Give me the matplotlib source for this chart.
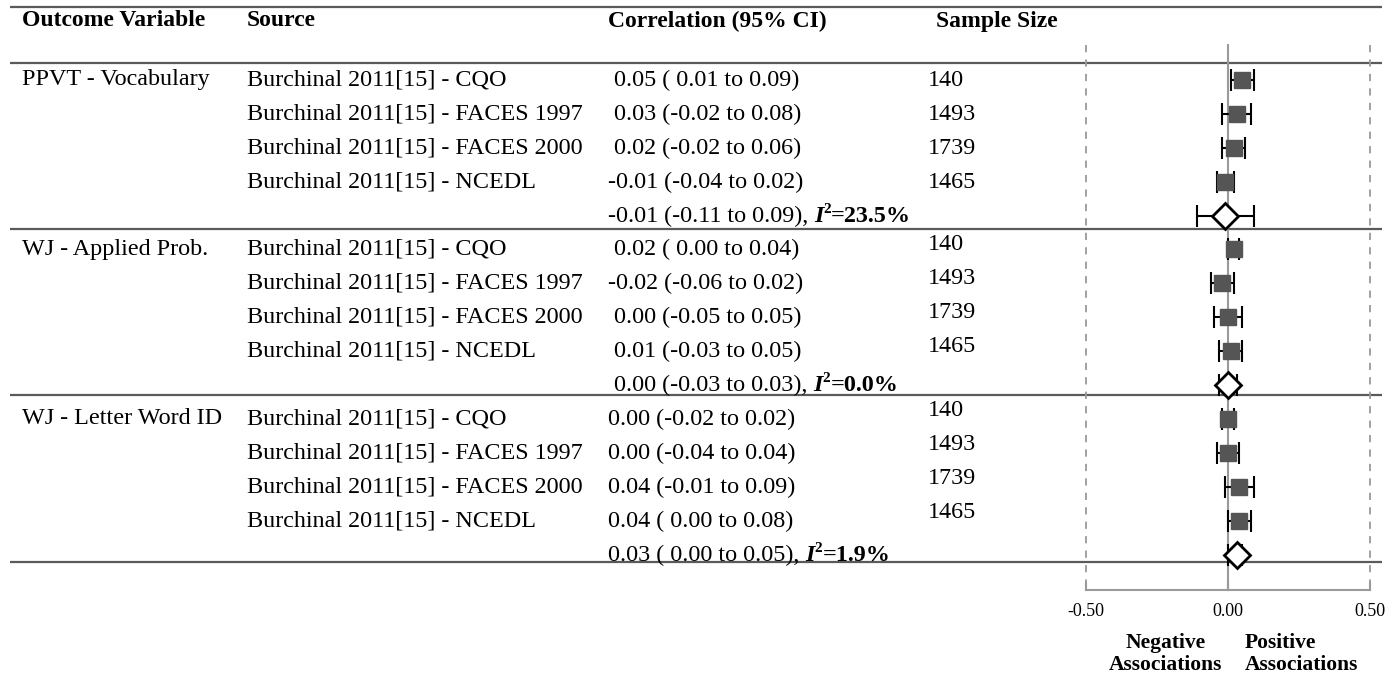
import numpy as np
import matplotlib.pyplot as plt

# Outcome groups, studies and pooled estimates
outcomes = ['PPVT - Vocabulary', 'WJ - Applied Prob.', 'WJ - Letter Word ID']
sources = ['Burchinal 2011[15] - CQO', 'Burchinal 2011[15] - FACES 1997',
           'Burchinal 2011[15] - FACES 2000', 'Burchinal 2011[15] - NCEDL']
sample_sizes = [140, 1493, 1739, 1465]

est = [[0.05, 0.03, 0.02, -0.01],
       [0.02, -0.02, 0.00, 0.01],
       [0.00, 0.00, 0.04, 0.04]]
lo = [[0.01, -0.02, -0.02, -0.04],
      [0.00, -0.06, -0.05, -0.03],
      [-0.02, -0.04, -0.01, 0.00]]
hi = [[0.09, 0.08, 0.06, 0.02],
      [0.04, 0.02, 0.05, 0.05],
      [0.02, 0.04, 0.09, 0.08]]

pooled_est = [-0.01, 0.00, 0.03]
pooled_lo = [-0.11, -0.03, 0.00]
pooled_hi = [0.09, 0.03, 0.05]
i_squared = ['23.5%', '0.0%', '1.9%']

xticks = [-0.5, 0.0, 0.5]
xtick_labels = ['-0.50', '0.00', '0.50']

# layout (pixel rows, top-down)
W, H = 1400, 676
group_top = [80, 249, 419]
row_step = 34
sep_y = [229, 395, 562]
n_offset = [0, -4, -9]
pad_est = [True, True, False]

plt.rcParams['font.family'] = ['Liberation Serif', 'DejaVu Serif']
fs = 17.4
gray_line = '#5a5a5a'
axis_gray = '#9a9a9a'

fig = plt.figure(figsize=(14, 6.76), dpi=100)
tab = fig.add_axes([0, 0, 1, 1])
tab.set_xlim(0, W)
tab.set_ylim(H, 0)
tab.axis('off')

fa = fig.add_axes([1086 / W, 0, 284 / W, 1])
fa.set_xlim(-0.5, 0.5)
fa.set_ylim(H, 0)
fa.axis('off')

# header and rules
for x, s in zip([22, 247, 608, 936],
                ['Outcome Variable', 'Source', 'Correlation (95% CI)', 'Sample Size']):
    tab.text(x, 21, s, fontsize=17, fontweight='bold', va='center')
for y in [7, 63] + sep_y:
    tab.plot([10, 1382], [y, y], color=gray_line, lw=1.6, solid_capstyle='butt')


def fmt(v, pad):
    return f'{v:5.2f}' if pad else f'{v:.2f}'


for g in range(3):
    rows = [group_top[g] + row_step * k for k in range(5)]
    tab.text(22, rows[0], outcomes[g], fontsize=fs, va='center')
    for k in range(4):
        y = rows[k]
        tab.text(247, y, sources[k], fontsize=fs, va='center')
        label = f'{fmt(est[g][k], pad_est[g])} ({lo[g][k]:5.2f} to {hi[g][k]:.2f})'
        tab.text(608, y, label, fontsize=fs, va='center')
        tab.text(928, y + n_offset[g], str(sample_sizes[k]), fontsize=fs, va='center')

        fa.errorbar(est[g][k], y,
                    xerr=[[est[g][k] - lo[g][k]], [hi[g][k] - est[g][k]]],
                    fmt='none', ecolor='black', elinewidth=1.5, capsize=8,
                    capthick=1.5, zorder=3)
        fa.plot(est[g][k], y, 's', ms=11.5, color='#555555', zorder=4)

    # pooled estimate row
    y = rows[4]
    plain = (f'{fmt(pooled_est[g], pad_est[g])} '
             f'({pooled_lo[g]:5.2f} to {pooled_hi[g]:.2f}), ')
    t1 = tab.text(608, y, plain, fontsize=fs, va='center')
    t2 = tab.annotate('I', xy=(1, 0), xycoords=t1, va='bottom', ha='left',
                      fontsize=fs, fontweight='bold', style='italic')
    t3 = tab.annotate('2', xy=(1, 1), xycoords=t2, va='top', ha='left',
                      fontsize=11, fontweight='bold', xytext=(0, 2),
                      textcoords='offset points')
    tab.annotate('=' + i_squared[g], xy=(1, 0), xycoords=(t3, t1), va='bottom',
                 ha='left', fontsize=fs, fontweight='bold')

    fa.errorbar(pooled_est[g], y,
                xerr=[[pooled_est[g] - pooled_lo[g]], [pooled_hi[g] - pooled_est[g]]],
                fmt='none', ecolor='black', elinewidth=1.5, capsize=8,
                capthick=1.5, zorder=3)
    fa.plot(pooled_est[g], y, 'D', ms=13, mfc='white', mec='black', mew=2,
            zorder=4)

# reference lines and axis
axis_y = 590
fa.plot([0, 0], [45, axis_y], color=axis_gray, lw=1.5, zorder=1)
for xv in (-0.5, 0.5):
    fa.plot([xv, xv], [45, axis_y], color=axis_gray, lw=1.3, ls=(0, (4, 4)),
            zorder=1, clip_on=False)
fa.plot([-0.5, 0.5], [axis_y, axis_y], color=axis_gray, lw=1.5, clip_on=False)
for xv, lab in zip(xticks, xtick_labels):
    fa.plot([xv, xv], [axis_y, axis_y - 7], color=axis_gray, lw=1.5, clip_on=False)
    fa.text(xv, 611, lab, fontsize=13, ha='center', va='center')

fa.text(-0.02, 654, 'Negative\nAssociations', fontsize=15.5, fontweight='bold',
        ha='right', va='center', multialignment='center', linespacing=1.1)
fa.text(0.06, 654, 'Positive\nAssociations', fontsize=15.5, fontweight='bold',
        ha='left', va='center', multialignment='left', linespacing=1.1)

fig.savefig('out.png', dpi=100)
